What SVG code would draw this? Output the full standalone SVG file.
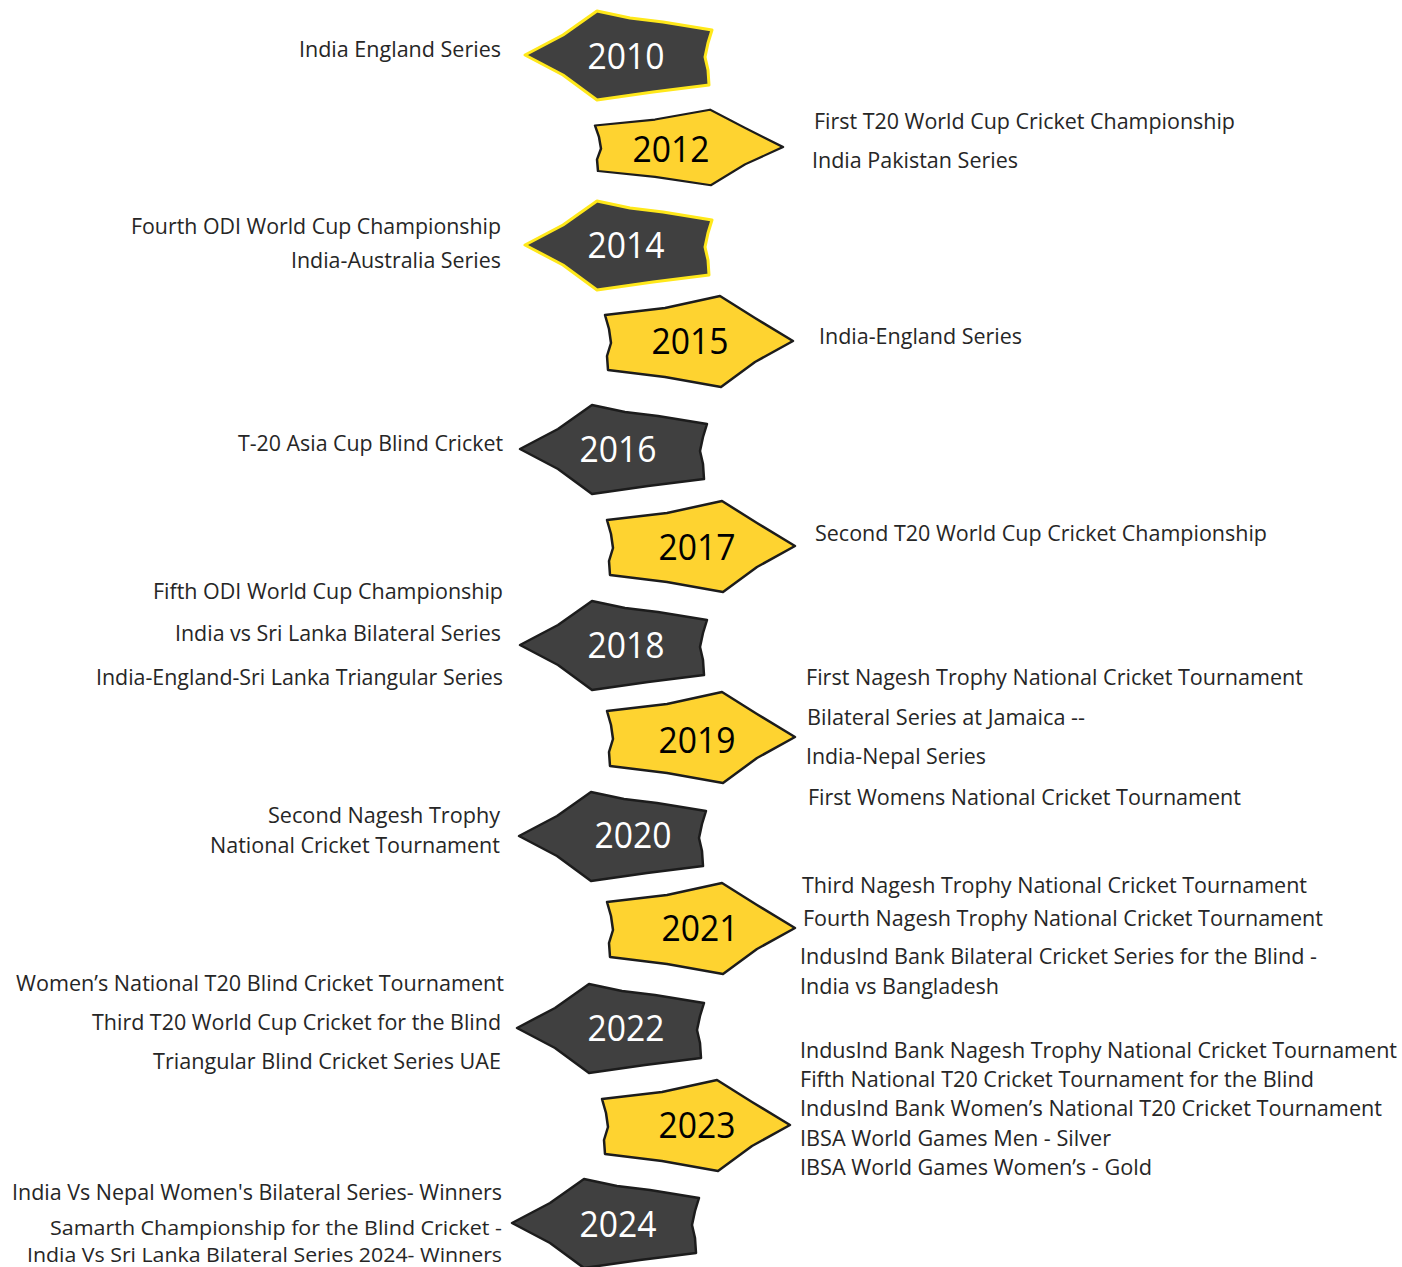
<svg xmlns="http://www.w3.org/2000/svg" width="1402" height="1267" viewBox="0 0 1402 1267">
<style>
.bg{fill:#ffffff}
.dk{fill:#404040;stroke:#1c1c1c;stroke-width:2.5;stroke-linejoin:round}
.dky{fill:#404040;stroke:#ffe81a;stroke-width:3;stroke-linejoin:round}
.yl{fill:#fed330;stroke:#1c1c1c;stroke-width:2.5;stroke-linejoin:round}
.yr{font-family:"Open Sans","Liberation Sans",sans-serif;font-size:36px;text-anchor:middle}
.yw{fill:#ffffff}
.yb{fill:#000000}
.lb{font-family:"Open Sans","Liberation Sans",sans-serif;font-size:21px;fill:#262626}
.sm{font-size:19.5px}
.le{text-anchor:end}
</style>
<defs>
<path id="dark" d="M0,0 L38,-20 L72,-44 L105,-37 L138,-33 L187,-25 L183,-12 L180,2 L183,15 L184,30 L128,37 L72,45 L38,20 Z"/>
<path id="yell" d="M0,0 L-38,-23 L-73,-45 L-128,-33 L-188,-26 L-184,-12 L-182,2 L-186,15 L-185,29 L-128,36 L-72,46 L-38,21 Z"/>
</defs>
<rect class="bg" x="0" y="0" width="1402" height="1267"/>

<g id="y2010">
<use href="#dark" class="dky" transform="translate(525,55)"/>
<text class="yr yw" x="626" y="69" textLength="77" lengthAdjust="spacingAndGlyphs">2010</text>
<text class="lb le" x="501" y="57" textLength="202" lengthAdjust="spacingAndGlyphs">India England Series</text>
</g>

<g id="y2012">
<use href="#yell" class="yl" transform="translate(783,147) scale(1,0.83)"/>
<text class="yr yb" x="671" y="162" textLength="77" lengthAdjust="spacingAndGlyphs">2012</text>
<text class="lb" x="814" y="129" textLength="421" lengthAdjust="spacingAndGlyphs">First T20 World Cup Cricket Championship</text>
<text class="lb" x="812" y="168" textLength="206" lengthAdjust="spacingAndGlyphs">India Pakistan Series</text>
</g>

<g id="y2014">
<use href="#dark" class="dky" transform="translate(525,245)"/>
<text class="yr yw" x="626" y="258" textLength="77" lengthAdjust="spacingAndGlyphs">2014</text>
<text class="lb le" x="501" y="234" textLength="370" lengthAdjust="spacingAndGlyphs">Fourth ODI World Cup Championship</text>
<text class="lb le" x="501" y="268" textLength="210" lengthAdjust="spacingAndGlyphs">India-Australia Series</text>
</g>

<g id="y2015">
<use href="#yell" class="yl" transform="translate(793,341)"/>
<text class="yr yb" x="690" y="354" textLength="77" lengthAdjust="spacingAndGlyphs">2015</text>
<text class="lb" x="819" y="344" textLength="203" lengthAdjust="spacingAndGlyphs">India-England Series</text>
</g>

<g id="y2016">
<use href="#dark" class="dk" transform="translate(520,449)"/>
<text class="yr yw" x="618" y="462" textLength="77" lengthAdjust="spacingAndGlyphs">2016</text>
<text class="lb le" x="503" y="451" textLength="265" lengthAdjust="spacingAndGlyphs">T-20 Asia Cup Blind Cricket</text>
</g>

<g id="y2017">
<use href="#yell" class="yl" transform="translate(795,546)"/>
<text class="yr yb" x="697" y="560" textLength="77" lengthAdjust="spacingAndGlyphs">2017</text>
<text class="lb" x="815" y="541" textLength="452" lengthAdjust="spacingAndGlyphs">Second T20 World Cup Cricket Championship</text>
</g>

<g id="y2018">
<use href="#dark" class="dk" transform="translate(520,645)"/>
<text class="yr yw" x="626" y="658" textLength="77" lengthAdjust="spacingAndGlyphs">2018</text>
<text class="lb le" x="503" y="599" textLength="350" lengthAdjust="spacingAndGlyphs">Fifth ODI World Cup Championship</text>
<text class="lb le" x="501" y="641" textLength="326" lengthAdjust="spacingAndGlyphs">India vs Sri Lanka Bilateral Series</text>
<text class="lb le" x="503" y="685" textLength="407" lengthAdjust="spacingAndGlyphs">India-England-Sri Lanka Triangular Series</text>
</g>

<g id="y2019">
<use href="#yell" class="yl" transform="translate(795,737)"/>
<text class="yr yb" x="697" y="753" textLength="77" lengthAdjust="spacingAndGlyphs">2019</text>
<text class="lb" x="806" y="685" textLength="497" lengthAdjust="spacingAndGlyphs">First Nagesh Trophy National Cricket Tournament</text>
<text class="lb" x="807" y="725" textLength="278" lengthAdjust="spacingAndGlyphs">Bilateral Series at Jamaica --</text>
<text class="lb" x="806" y="764" textLength="180" lengthAdjust="spacingAndGlyphs">India-Nepal Series</text>
<text class="lb" x="808" y="805" textLength="433" lengthAdjust="spacingAndGlyphs">First Womens National Cricket Tournament</text>
</g>

<g id="y2020">
<use href="#dark" class="dk" transform="translate(519,836)"/>
<text class="yr yw" x="633" y="848" textLength="77" lengthAdjust="spacingAndGlyphs">2020</text>
<text class="lb le" x="500" y="823" textLength="232" lengthAdjust="spacingAndGlyphs">Second Nagesh Trophy</text>
<text class="lb le" x="500" y="853" textLength="290" lengthAdjust="spacingAndGlyphs">National Cricket Tournament</text>
</g>

<g id="y2021">
<use href="#yell" class="yl" transform="translate(795,928)"/>
<text class="yr yb" x="700" y="941" textLength="77" lengthAdjust="spacingAndGlyphs">2021</text>
<text class="lb" x="802" y="893" textLength="505" lengthAdjust="spacingAndGlyphs">Third Nagesh Trophy National Cricket Tournament</text>
<text class="lb" x="803" y="926" textLength="520" lengthAdjust="spacingAndGlyphs">Fourth Nagesh Trophy National Cricket Tournament</text>
<text class="lb" x="800" y="964" textLength="517" lengthAdjust="spacingAndGlyphs">IndusInd Bank Bilateral Cricket Series for the Blind -</text>
<text class="lb" x="800" y="994" textLength="199" lengthAdjust="spacingAndGlyphs">India vs Bangladesh</text>
</g>

<g id="y2022">
<use href="#dark" class="dk" transform="translate(517,1028)"/>
<text class="yr yw" x="626" y="1041" textLength="77" lengthAdjust="spacingAndGlyphs">2022</text>
<text class="lb le" x="504" y="991" textLength="488" lengthAdjust="spacingAndGlyphs">Women’s National T20 Blind Cricket Tournament</text>
<text class="lb le" x="501" y="1030" textLength="409" lengthAdjust="spacingAndGlyphs">Third T20 World Cup Cricket for the Blind</text>
<text class="lb le" x="501" y="1069" textLength="348" lengthAdjust="spacingAndGlyphs">Triangular Blind Cricket Series UAE</text>
</g>

<g id="y2023">
<use href="#yell" class="yl" transform="translate(790,1125)"/>
<text class="yr yb" x="697" y="1138" textLength="77" lengthAdjust="spacingAndGlyphs">2023</text>
<text class="lb" x="800" y="1058" textLength="597" lengthAdjust="spacingAndGlyphs">IndusInd Bank Nagesh Trophy National Cricket Tournament</text>
<text class="lb" x="800" y="1087" textLength="514" lengthAdjust="spacingAndGlyphs">Fifth National T20 Cricket Tournament for the Blind</text>
<text class="lb" x="800" y="1116" textLength="582" lengthAdjust="spacingAndGlyphs">IndusInd Bank Women’s National T20 Cricket Tournament</text>
<text class="lb" x="800" y="1146" textLength="311" lengthAdjust="spacingAndGlyphs">IBSA World Games Men - Silver</text>
<text class="lb" x="800" y="1175" textLength="352" lengthAdjust="spacingAndGlyphs">IBSA World Games Women’s - Gold</text>
</g>

<g id="y2024">
<use href="#dark" class="dk" transform="translate(512,1223)"/>
<text class="yr yw" x="618" y="1237" textLength="77" lengthAdjust="spacingAndGlyphs">2024</text>
<text class="lb le" x="502" y="1200" textLength="490" lengthAdjust="spacingAndGlyphs">India Vs Nepal Women's Bilateral Series- Winners</text>
<text class="lb sm le" x="502" y="1235" textLength="452" lengthAdjust="spacingAndGlyphs">Samarth Championship for the Blind Cricket -</text>
<text class="lb sm le" x="502" y="1262" textLength="475" lengthAdjust="spacingAndGlyphs">India Vs Sri Lanka Bilateral Series 2024- Winners</text>
</g>

<g id="connectors"></g>
</svg>
